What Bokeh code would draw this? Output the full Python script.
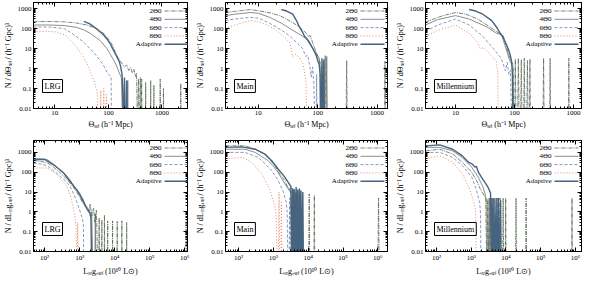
import math
from bokeh.plotting import figure
from bokeh.layouts import row, column
from bokeh.models import FixedTicker, CustomJSTickFormatter, LogAxis, Label, Arrow
from bokeh.embed import file_html
from bokeh.resources import INLINE

FONT = "Liberation Serif"

series_names = ["2Θ0", "4Θ0", "6Θ0", "8Θ0", "Adaptive"]
panel_names = ["LRG", "Main", "Millennium"]

top_x_ticks = [10, 100, 1000]
bottom_x_ticks = [1e2, 1e3, 1e4, 1e5, 1e6]
y_ticks = [0.01, 0.1, 1, 10, 100, 1000]

# ---------------- top row: N / dTheta_sel ----------------
lrg_top_2 = [(4,220),(8,225),(15,215),(25,190),(40,150),(60,100),(80,60),(100,30),(120,14),(140,5),(160,2.8),(185,1.6),(200,1.2),(220,1.5),(240,0.8),(260,1.1),(280,0.6),(300,0.9),(320,0.4),(335,0.6),(350,0.001),(365,0.3),(380,0.001),(395,0.35),(410,0.001),(418,0.3),(426,0.001),(490,0.001),(497,0.2),(504,0.001),(610,0.001),(617,0.25),(624,0.001),(700,0.001),(707,0.15),(714,0.001),(920,0.001),(928,0.3),(936,0.001),(1060,0.001),(1068,0.1),(1076,0.001),(2230,0.001),(2245,0.18),(2260,0.001)]
lrg_top_4 = [(4,150),(8,150),(15,140),(25,115),(35,85),(47,55),(70,25),(94,10),(122,3),(140,1.5),(160,0.6),(175,0.35),(185,0.001),(195,0.001),(200,0.3),(205,0.001),(225,0.001),(230,0.25),(235,0.001)]
lrg_top_6 = [(4,120),(8,118),(15,100),(24,45),(35,20),(54,6),(70,2.5),(81,1.5),(95,0.6),(105,0.45),(112,0.4),(115,0.001)]
lrg_top_8 = [(4,70),(7,72),(11,68),(16,45),(24,14),(32,5),(41,1.5),(54,0.25),(62,0.06),(64,0.001),(70,0.001),(72,0.08),(74,0.001),(80,0.001),(82,0.1),(84,0.001),(90,0.001),(92,0.05),(94,0.001)]
lrg_top_ad = [(35,230),(45,170),(62,90),(80,50),(94,30),(110,16),(122,9),(140,4.5),(160,2.2),(170,1.2),(180,0.5),(185,0.1),(190,0.001),(195,0.001),(200,0.35),(205,0.001),(215,0.001),(220,0.25),(225,0.001)]

main_top_2 = [(2.8,630),(4,720),(7.3,890),(10.6,750),(16,600),(23,440),(33,250),(44,150),(55,90),(64,58),(70,40),(75,45),(82,20),(94,6.7),(105,3),(113,1.6),(118,0.5),(121,0.001),(130,0.001),(134,4.5),(138,0.001),(300,0.001),(308,2.5),(316,0.001),(1340,0.001),(1360,2.3),(1380,0.001)]
main_top_4 = [(2.8,440),(4,520),(7.3,630),(10,580),(15.6,360),(25,180),(34,100),(45,60),(56,41),(65,30),(75,15),(90,7),(106,3.3),(110,1),(112,0.001),(125,0.001),(128,3),(131,0.001),(138,0.001),(142,4),(146,0.001)]
main_top_6 = [(2.8,250),(4,300),(7.3,360),(10,330),(15.6,180),(25,80),(34,42),(44,20),(56,9.8),(63,4),(68,4.7),(73,1.5),(78,0.37),(82,1.2),(86,0.2),(90,0.001),(94,0.001),(96,0.5),(98,0.001)]
main_top_8 = [(2.8,100),(4,150),(7.3,250),(10.6,210),(14,150),(20,85),(28,35),(34,20),(36,8),(38,3.9),(42,5),(48,4),(57,1.6),(61,0.5),(64,0.18),(65,0.001)]
main_top_ad = [(24.5,890),(30,750),(38,520),(44,250),(49,123),(55,70),(60,41),(66,30),(73,20),(80,12),(88,7),(94,4.7),(100,2.5),(106,1.6),(110,0.5),(112,0.001),(115,0.001),(118,3.3),(121,0.001),(124,0.001),(126,2.5),(129,0.001)]

mill_top_2 = [(3.1,210),(4,280),(6.1,440),(10,630),(15,520),(23.6,300),(34,150),(49,71),(58,55),(65,41),(72,14),(80,4.7),(87,2.5),(94,1.6),(97,0.001),(100,0.001),(103,3),(106,0.001),(112,0.001),(116,3.3),(120,0.001),(126,0.001),(130,2.8),(134,0.001),(142,0.001),(146,3.3),(150,0.001),(160,0.001),(165,2.5),(170,0.001),(178,0.001),(182,3),(186,0.001),(302,0.001),(310,3.3),(318,0.001),(392,0.001),(400,3.3),(408,0.001),(815,0.001),(830,3.3),(845,0.001)]
mill_top_4 = [(3.1,150),(5,280),(10,440),(17,300),(34,120),(49,58),(60,49),(69,14),(80,3.3),(94,1.1),(96,0.001)]
mill_top_6 = [(3.1,71),(5,150),(10,300),(17,150),(29,41),(44,9.8),(59,3.3),(65,1.5),(70,0.77),(75,2),(80,0.5),(85,0.8),(90,0.001)]
mill_top_8 = [(3.1,41),(5,80),(10,150),(17,58),(24,20),(26,9.8),(30,11),(36,6.7),(49,2.3),(52,0.55),(53,0.001)]
mill_top_ad = [(17,890),(22,750),(29,520),(41,250),(49,123),(57,58),(63,40),(70,20),(78,9.8),(84,5),(89,2.3),(92,0.5),(94,0.001)]

# ---------------- bottom row: N / dL_reg,sel ----------------
lrg_bot_2 = [(48,390),(80,350),(123,290),(180,180),(280,91),(400,50),(525,29),(650,18),(800,11),(1000,5.5),(1200,3.0),(1450,1.8),(1800,0.95),(2000,2.5),(2200,0.6),(2500,1.5),(2700,0.3),(3000,1.2),(3300,0.001),(3500,0.001),(3600,0.5),(3700,0.001),(4200,0.001),(4300,0.4),(4400,0.001),(5000,0.001),(5100,0.7),(5200,0.001),(6200,0.001),(6300,0.35),(6400,0.001),(8600,0.001),(8700,0.35),(8800,0.001),(11700,0.001),(11800,0.33),(11900,0.001),(15900,0.001),(16000,0.35),(16100,0.001),(21800,0.001),(22000,0.3),(22200,0.001),(1.08e6,0.001),(1.1e6,0.37),(1.12e6,0.001)]
lrg_bot_4 = [(48,500),(80,470),(123,420),(180,250),(280,130),(400,75),(525,43),(700,18),(980,7.7),(1150,4),(1330,2.5),(1550,1.8),(1800,1.4),(2000,0.8),(2200,1.0),(2400,0.001),(2700,0.001),(2800,0.8),(2900,0.001)]
lrg_bot_6 = [(48,290),(80,260),(123,205),(180,120),(280,63),(400,35),(525,20),(720,6.3),(850,2.8),(980,1.4),(1200,0.44),(1280,0.2),(1300,0.001)]
lrg_bot_8 = [(48,160),(80,165),(123,160),(230,75),(430,20),(580,4.4),(720,0.65),(800,0.14),(820,0.001),(850,0.001),(880,0.3),(920,0.001)]
lrg_bot_ad = [(48,420),(100,450),(185,230),(350,91),(525,35),(800,14),(1000,8),(1200,4.4),(1400,2.5),(1640,1.4),(1900,1.0),(2100,0.5),(2200,0.001)]

main_bot_2 = [(42,2150),(154,2150),(300,1450),(500,900),(700,560),(1090,220),(1500,85),(2100,40),(2500,20),(2900,13),(3100,18),(3300,0.001),(3500,15),(3700,0.001),(3900,12),(4100,0.001),(4400,10),(4600,0.001),(4900,14),(5100,0.001),(5500,10),(5700,0.001),(6000,8),(6200,0.001),(10300,0.001),(10700,8),(11100,0.001),(14500,0.001),(15000,7),(15500,0.001),(1.0e6,0.001),(1.05e6,5),(1.1e6,0.001)]
main_bot_4 = [(42,1450),(154,1450),(300,1000),(700,390),(1000,200),(1350,100),(1700,50),(2100,27),(2600,15),(3200,8.9),(3600,12),(3900,0.001),(4100,9),(4300,0.001),(4600,10),(4800,0.001),(5000,7),(5200,0.001)]
main_bot_6 = [(42,1000),(154,1000),(370,560),(600,250),(880,125),(1350,40),(1900,11),(2350,2.9),(2500,0.8),(2600,0.001),(2800,0.001),(2950,5),(3100,0.001),(3300,0.001),(3450,6),(3600,0.001)]
main_bot_8 = [(42,470),(124,560),(240,320),(460,85),(790,13),(1090,2.0),(1200,0.63),(1300,0.001),(1380,0.001),(1450,10),(1520,0.001),(1650,0.001),(1700,3),(1750,0.001)]
main_bot_ad = [(42,1800),(124,1900),(300,1450),(570,830),(880,390),(1350,150),(2100,58),(2700,30),(3200,19),(3400,0.001),(3600,15),(3800,0.001),(4000,14),(4200,0.001),(4500,18),(4700,0.001),(5000,13),(5200,0.001),(5600,15),(5800,0.001),(6200,12),(6400,0.001),(7000,10),(7300,0.001)]

mill_bot_2 = [(48,1200),(124,1450),(290,830),(545,320),(1030,100),(1400,40),(1800,15),(2200,8),(2600,5),(2800,0.001),(3000,4.5),(3200,0.001),(3500,5),(3700,0.001),(4300,0.001),(4500,5),(4700,0.001),(5400,0.001),(5600,5),(5800,0.001),(6500,0.001),(6700,5),(6900,0.001),(8000,0.001),(8300,5),(8600,0.001),(9500,0.001),(9800,5),(10100,0.001),(19000,0.001),(19500,5),(20000,0.001),(37000,0.001),(38000,5),(39000,0.001),(7.8e5,0.001),(8.0e5,5),(8.2e5,0.001)]
mill_bot_4 = [(48,1800),(124,1800),(290,1200),(545,560),(1030,180),(1570,58),(2150,19),(2500,8),(2800,3),(2900,0.001),(3100,0.001),(3300,5),(3500,0.001)]
mill_bot_6 = [(48,1000),(124,1000),(290,560),(545,220),(1030,58),(1400,13),(1750,2.9),(1850,0.8),(1900,0.001)]
mill_bot_8 = [(48,470),(124,680),(290,320),(545,85),(920,13),(1270,2.0),(1350,0.5),(1400,0.001)]
mill_bot_ad = [(48,2150),(124,2400),(290,1450),(545,690),(830,320),(1100,250),(1270,180),(1400,200),(1600,100),(1940,58),(2970,19),(3600,9),(3800,0.001),(4000,5),(4200,0.001),(4500,5),(4700,0.001),(5200,5),(5400,0.001),(6000,5),(6200,0.001),(7000,4),(7300,0.001)]

top_curves = [
    [lrg_top_2, lrg_top_4, lrg_top_6, lrg_top_8, lrg_top_ad],
    [main_top_2, main_top_4, main_top_6, main_top_8, main_top_ad],
    [mill_top_2, mill_top_4, mill_top_6, mill_top_8, mill_top_ad],
]
bottom_curves = [
    [lrg_bot_2, lrg_bot_4, lrg_bot_6, lrg_bot_8, lrg_bot_ad],
    [main_bot_2, main_bot_4, main_bot_6, main_bot_8, main_bot_ad],
    [mill_bot_2, mill_bot_4, mill_bot_6, mill_bot_8, mill_bot_ad],
]
top_x_ranges = [(4, 3000), (2.8, 1500), (3.1, 1360)]
bottom_x_ranges = [(48, 1.2e6), (42, 1.9e6), (48, 1.5e6)]
top_y_range = (0.01, 2000)
bottom_y_range = (0.01, 4000)

top_xlabel = "Θₛₑₗ (h⁻¹ Mpc)"
top_ylabel = "N / dΘₛₑₗ / (h⁻¹ Gpc)³"
bottom_xlabel = "Lᵣₑg,ₛₑₗ (10¹⁰ L⊙)"
bottom_ylabel = "N / dLᵣₑg,ₛₑₗ / (h⁻¹ Gpc)³"

# styles
colors = ["#566652", "#707070", "#6b7db3", "#e67a52", "#46637f"]
widths = [0.8, 0.8, 0.8, 0.9, 1.4]
dashes = ["4 1 1 1", "solid", "3 2", "1 2", "solid"]

minor = [m * 10.0 ** k for k in range(-3, 7) for m in range(2, 10)]

fig_widths = [192, 200, 192]
border_left = [28, 32, 32]
border_right = [5, 5, 3]


def style_axis(ax, labels=True):
    ax.major_tick_in = 4
    ax.major_tick_out = 0
    ax.minor_tick_in = 2
    ax.minor_tick_out = 0
    ax.axis_line_color = "black"
    ax.major_tick_line_color = "black"
    ax.minor_tick_line_color = "black"
    ax.major_label_text_font = FONT
    ax.major_label_text_font_size = "7px"
    ax.major_label_text_color = "black"
    ax.major_label_standoff = 2 if labels else 0
    ax.axis_label_text_font = FONT
    ax.axis_label_text_font_size = "8px"
    ax.axis_label_text_font_style = "normal"
    ax.axis_label_text_color = "black"
    ax.axis_label_standoff = 2


def make_panel(col, curves, xr, yr, xticks, xcode, xlabel, ylabel, h, bt, bb):
    w = fig_widths[col]
    bl, br = border_left[col], border_right[col]
    p = figure(width=w, height=h, x_axis_type="log", y_axis_type="log",
               x_range=xr, y_range=yr, output_backend="svg", toolbar_location=None,
               min_border_left=bl, min_border_right=br, min_border_top=bt, min_border_bottom=bb)
    p.grid.visible = False
    p.outline_line_color = "black"
    p.outline_line_width = 1
    p.background_fill_color = "white"
    p.border_fill_color = "white"

    p.xaxis.ticker = FixedTicker(ticks=xticks, minor_ticks=minor)
    p.yaxis.ticker = FixedTicker(ticks=y_ticks, minor_ticks=minor)
    p.xaxis.formatter = CustomJSTickFormatter(code=xcode)
    p.yaxis.formatter = CustomJSTickFormatter(code="return tick >= 1 ? tick.toFixed(0) : tick.toString();")
    p.xaxis.axis_label = xlabel
    p.yaxis.axis_label = ylabel
    style_axis(p.xaxis[0])
    style_axis(p.yaxis[0])

    blank = CustomJSTickFormatter(code='return "";')
    top_ax = LogAxis(ticker=FixedTicker(ticks=xticks, minor_ticks=minor), formatter=blank)
    right_ax = LogAxis(ticker=FixedTicker(ticks=y_ticks, minor_ticks=minor), formatter=blank)
    style_axis(top_ax, labels=False)
    style_axis(right_ax, labels=False)
    p.add_layout(top_ax, "above")
    p.add_layout(right_ax, "right")

    for i in [3, 2, 1, 0, 4]:
        pts = curves[i]
        xs = [a for a, b in pts]
        ys = [b for a, b in pts]
        p.line(xs, ys, line_color=colors[i], line_width=widths[i], line_dash=dashes[i])

    fw = w - bl - br
    fh = h - bt - bb
    for i, name in enumerate(series_names):
        yy = fh - 8.5 - i * 8.3
        p.add_layout(Label(x=fw - 31, y=yy, x_units="screen", y_units="screen", text=name,
                           text_align="right", text_baseline="middle", text_font=FONT,
                           text_font_size="7px", text_color="black"))
        p.add_layout(Arrow(x_start=fw - 28, y_start=yy, x_end=fw - 4, y_end=yy,
                           start_units="screen", end_units="screen", start=None, end=None,
                           line_color=colors[i], line_width=widths[i], line_dash=dashes[i]))

    p.add_layout(Label(x=9, y=16, x_units="screen", y_units="screen", text=panel_names[col],
                       text_align="left", text_baseline="bottom", text_font=FONT,
                       text_font_size="8px", text_color="black", padding=2,
                       border_line_color="black", border_line_width=1,
                       background_fill_color="white"))
    return p


top_xcode = "return tick.toFixed(0);"
bot_xcode = 'const s = {2:"\\u00b2",3:"\\u00b3",4:"\\u2074",5:"\\u2075",6:"\\u2076"}; return "10" + s[Math.round(Math.log10(tick))];'

top_row = [make_panel(c, top_curves[c], top_x_ranges[c], top_y_range, top_x_ticks, top_xcode,
                      top_xlabel, top_ylabel, 134, 2, 26) for c in range(3)]
bottom_row = [make_panel(c, bottom_curves[c], bottom_x_ranges[c], bottom_y_range, bottom_x_ticks, bot_xcode,
                         bottom_xlabel, bottom_ylabel, 144, 6, 26) for c in range(3)]

layout = column(row(*top_row), row(*bottom_row))
open("out.html", "w").write(file_html(layout, INLINE))
